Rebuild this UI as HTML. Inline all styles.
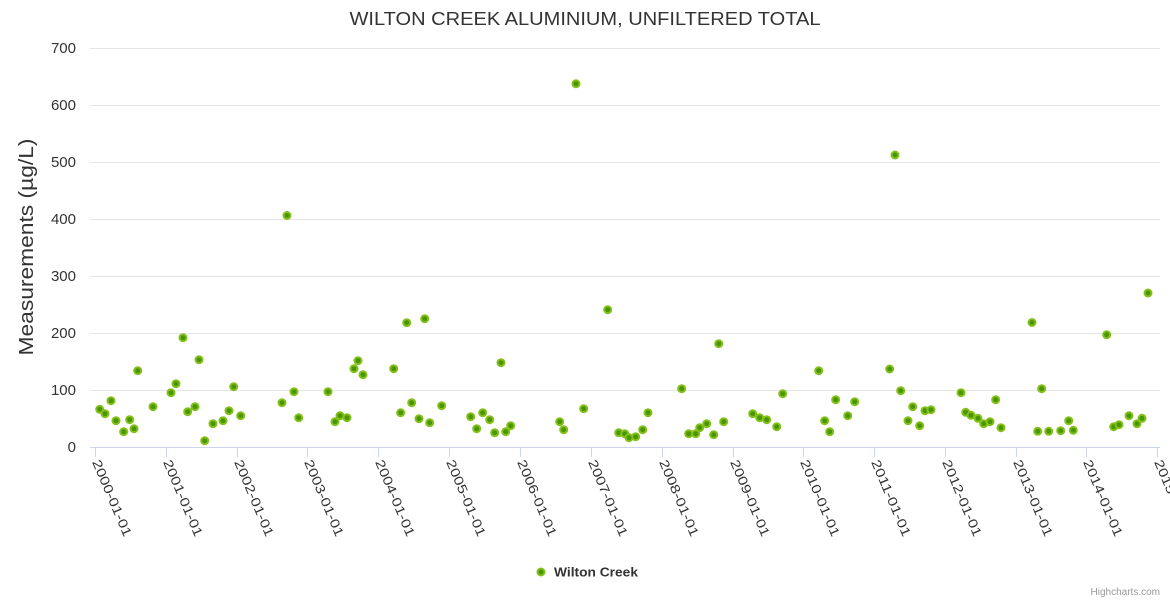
<!DOCTYPE html>
<html>
<head>
<meta charset="utf-8">
<style>
html,body{margin:0;padding:0;background:#fff;}
svg{display:block;}
text{font-family:"Liberation Sans",sans-serif;}
</style>
</head>
<body>
<svg width="1170" height="600" viewBox="0 0 1170 600" xmlns="http://www.w3.org/2000/svg">
<rect width="1170" height="600" fill="#fff"/>
<text x="585" y="25" text-anchor="middle" font-size="18" fill="#333" textLength="471" lengthAdjust="spacingAndGlyphs">WILTON CREEK ALUMINIUM, UNFILTERED TOTAL</text>
<g stroke="#e6e6e6" stroke-width="1">
<line x1="90" y1="48.5" x2="1160" y2="48.5"/>
<line x1="90" y1="105.5" x2="1160" y2="105.5"/>
<line x1="90" y1="162.5" x2="1160" y2="162.5"/>
<line x1="90" y1="219.5" x2="1160" y2="219.5"/>
<line x1="90" y1="276.5" x2="1160" y2="276.5"/>
<line x1="90" y1="333.5" x2="1160" y2="333.5"/>
<line x1="90" y1="390.5" x2="1160" y2="390.5"/>
</g>
<g stroke="#ccd6eb" stroke-width="1">
<line x1="90" y1="447.5" x2="1160" y2="447.5"/>
<line x1="95.5" y1="447" x2="95.5" y2="457"/>
<line x1="166.5" y1="447" x2="166.5" y2="457"/>
<line x1="237.5" y1="447" x2="237.5" y2="457"/>
<line x1="307.5" y1="447" x2="307.5" y2="457"/>
<line x1="378.5" y1="447" x2="378.5" y2="457"/>
<line x1="449.5" y1="447" x2="449.5" y2="457"/>
<line x1="520.5" y1="447" x2="520.5" y2="457"/>
<line x1="591.5" y1="447" x2="591.5" y2="457"/>
<line x1="662.5" y1="447" x2="662.5" y2="457"/>
<line x1="733.5" y1="447" x2="733.5" y2="457"/>
<line x1="803.5" y1="447" x2="803.5" y2="457"/>
<line x1="874.5" y1="447" x2="874.5" y2="457"/>
<line x1="945.5" y1="447" x2="945.5" y2="457"/>
<line x1="1016.5" y1="447" x2="1016.5" y2="457"/>
<line x1="1086.5" y1="447" x2="1086.5" y2="457"/>
<line x1="1157.5" y1="447" x2="1157.5" y2="457"/>
</g>
<g font-size="15" fill="#333" text-anchor="end">
<text x="76" y="53">700</text>
<text x="76" y="110">600</text>
<text x="76" y="167">500</text>
<text x="76" y="224">400</text>
<text x="76" y="281">300</text>
<text x="76" y="338">200</text>
<text x="76" y="395">100</text>
<text x="76" y="452">0</text>
</g>
<text transform="translate(33,247) rotate(-90)" text-anchor="middle" font-size="20" fill="#333" textLength="217" lengthAdjust="spacingAndGlyphs">Measurements (µg/L)</text>
<g font-size="13" fill="#333">
<text transform="translate(92,462) rotate(67)" textLength="82" lengthAdjust="spacingAndGlyphs">2000-01-01</text>
<text transform="translate(163,462) rotate(67)" textLength="82" lengthAdjust="spacingAndGlyphs">2001-01-01</text>
<text transform="translate(234,462) rotate(67)" textLength="82" lengthAdjust="spacingAndGlyphs">2002-01-01</text>
<text transform="translate(304,462) rotate(67)" textLength="82" lengthAdjust="spacingAndGlyphs">2003-01-01</text>
<text transform="translate(375,462) rotate(67)" textLength="82" lengthAdjust="spacingAndGlyphs">2004-01-01</text>
<text transform="translate(446,462) rotate(67)" textLength="82" lengthAdjust="spacingAndGlyphs">2005-01-01</text>
<text transform="translate(517,462) rotate(67)" textLength="82" lengthAdjust="spacingAndGlyphs">2006-01-01</text>
<text transform="translate(588,462) rotate(67)" textLength="82" lengthAdjust="spacingAndGlyphs">2007-01-01</text>
<text transform="translate(659,462) rotate(67)" textLength="82" lengthAdjust="spacingAndGlyphs">2008-01-01</text>
<text transform="translate(730,462) rotate(67)" textLength="82" lengthAdjust="spacingAndGlyphs">2009-01-01</text>
<text transform="translate(800,462) rotate(67)" textLength="82" lengthAdjust="spacingAndGlyphs">2010-01-01</text>
<text transform="translate(871,462) rotate(67)" textLength="82" lengthAdjust="spacingAndGlyphs">2011-01-01</text>
<text transform="translate(942,462) rotate(67)" textLength="82" lengthAdjust="spacingAndGlyphs">2012-01-01</text>
<text transform="translate(1013,462) rotate(67)" textLength="82" lengthAdjust="spacingAndGlyphs">2013-01-01</text>
<text transform="translate(1083,462) rotate(67)" textLength="82" lengthAdjust="spacingAndGlyphs">2014-01-01</text>
<text transform="translate(1154,462) rotate(67)" textLength="82" lengthAdjust="spacingAndGlyphs">2015-01-01</text>
</g>
<g fill="#4a9600" stroke="#84c01c" stroke-width="2">
<circle cx="99.7" cy="409.3" r="3.5"/>
<circle cx="105" cy="413.7" r="3.5"/>
<circle cx="111" cy="400.7" r="3.5"/>
<circle cx="116" cy="420.7" r="3.5"/>
<circle cx="123.7" cy="431.7" r="3.5"/>
<circle cx="129.7" cy="419.7" r="3.5"/>
<circle cx="134" cy="428.7" r="3.5"/>
<circle cx="137.7" cy="370.7" r="3.5"/>
<circle cx="153" cy="406.7" r="3.5"/>
<circle cx="171" cy="392.7" r="3.5"/>
<circle cx="176" cy="383.7" r="3.5"/>
<circle cx="183" cy="337.7" r="3.5"/>
<circle cx="187.7" cy="411.7" r="3.5"/>
<circle cx="195" cy="406.7" r="3.5"/>
<circle cx="199" cy="359.7" r="3.5"/>
<circle cx="204.7" cy="440.7" r="3.5"/>
<circle cx="213" cy="423.7" r="3.5"/>
<circle cx="223" cy="420.7" r="3.5"/>
<circle cx="229" cy="410.7" r="3.5"/>
<circle cx="233.7" cy="386.7" r="3.5"/>
<circle cx="240.7" cy="415.7" r="3.5"/>
<circle cx="282" cy="402.7" r="3.5"/>
<circle cx="287" cy="215.5" r="3.5"/>
<circle cx="294" cy="391.7" r="3.5"/>
<circle cx="298.7" cy="417.7" r="3.5"/>
<circle cx="328" cy="391.7" r="3.5"/>
<circle cx="335" cy="421.7" r="3.5"/>
<circle cx="340" cy="415.7" r="3.5"/>
<circle cx="347" cy="417.7" r="3.5"/>
<circle cx="354" cy="368.7" r="3.5"/>
<circle cx="358" cy="360.7" r="3.5"/>
<circle cx="363" cy="374.7" r="3.5"/>
<circle cx="393.7" cy="368.7" r="3.5"/>
<circle cx="400.7" cy="412.7" r="3.5"/>
<circle cx="406.7" cy="322.7" r="3.5"/>
<circle cx="411.7" cy="402.7" r="3.5"/>
<circle cx="419" cy="418.7" r="3.5"/>
<circle cx="424.7" cy="318.7" r="3.5"/>
<circle cx="429.7" cy="422.7" r="3.5"/>
<circle cx="441.7" cy="405.7" r="3.5"/>
<circle cx="470.7" cy="416.7" r="3.5"/>
<circle cx="476.7" cy="428.7" r="3.5"/>
<circle cx="482.7" cy="412.7" r="3.5"/>
<circle cx="489.7" cy="419.7" r="3.5"/>
<circle cx="494.7" cy="432.7" r="3.5"/>
<circle cx="501" cy="362.7" r="3.5"/>
<circle cx="505.7" cy="431.7" r="3.5"/>
<circle cx="510.7" cy="425.7" r="3.5"/>
<circle cx="559.7" cy="421.7" r="3.5"/>
<circle cx="563.7" cy="429.7" r="3.5"/>
<circle cx="576" cy="83.7" r="3.5"/>
<circle cx="583.7" cy="408.7" r="3.5"/>
<circle cx="607.7" cy="309.7" r="3.5"/>
<circle cx="618.7" cy="432.7" r="3.5"/>
<circle cx="624.7" cy="433.7" r="3.5"/>
<circle cx="629" cy="437.7" r="3.5"/>
<circle cx="635.7" cy="436.7" r="3.5"/>
<circle cx="642.7" cy="429.7" r="3.5"/>
<circle cx="648" cy="412.7" r="3.5"/>
<circle cx="681.7" cy="388.7" r="3.5"/>
<circle cx="688.7" cy="433.7" r="3.5"/>
<circle cx="695.7" cy="433.7" r="3.5"/>
<circle cx="699.7" cy="427.7" r="3.5"/>
<circle cx="706.7" cy="423.7" r="3.5"/>
<circle cx="713.7" cy="434.7" r="3.5"/>
<circle cx="718.7" cy="343.7" r="3.5"/>
<circle cx="723.7" cy="421.7" r="3.5"/>
<circle cx="752.7" cy="413.7" r="3.5"/>
<circle cx="759.7" cy="417.7" r="3.5"/>
<circle cx="766.7" cy="419.7" r="3.5"/>
<circle cx="776.7" cy="426.7" r="3.5"/>
<circle cx="782.7" cy="393.7" r="3.5"/>
<circle cx="818.7" cy="370.7" r="3.5"/>
<circle cx="824.7" cy="420.7" r="3.5"/>
<circle cx="829.7" cy="431.7" r="3.5"/>
<circle cx="835.7" cy="399.7" r="3.5"/>
<circle cx="847.7" cy="415.7" r="3.5"/>
<circle cx="854.7" cy="401.7" r="3.5"/>
<circle cx="889.7" cy="369" r="3.5"/>
<circle cx="895" cy="155" r="3.5"/>
<circle cx="900.7" cy="390.7" r="3.5"/>
<circle cx="908" cy="420.7" r="3.5"/>
<circle cx="912.7" cy="406.7" r="3.5"/>
<circle cx="919.7" cy="425.7" r="3.5"/>
<circle cx="925" cy="410.7" r="3.5"/>
<circle cx="931" cy="409.7" r="3.5"/>
<circle cx="961" cy="392.7" r="3.5"/>
<circle cx="965.7" cy="412.3" r="3.5"/>
<circle cx="971" cy="415.3" r="3.5"/>
<circle cx="978" cy="418.3" r="3.5"/>
<circle cx="983.7" cy="423.7" r="3.5"/>
<circle cx="990" cy="421.7" r="3.5"/>
<circle cx="995.7" cy="399.7" r="3.5"/>
<circle cx="1001" cy="427.7" r="3.5"/>
<circle cx="1032" cy="322.5" r="3.5"/>
<circle cx="1037.7" cy="431.3" r="3.5"/>
<circle cx="1041.7" cy="388.7" r="3.5"/>
<circle cx="1048.7" cy="431.3" r="3.5"/>
<circle cx="1060.7" cy="430.7" r="3.5"/>
<circle cx="1068.7" cy="420.7" r="3.5"/>
<circle cx="1073.3" cy="430.3" r="3.5"/>
<circle cx="1106.7" cy="334.7" r="3.5"/>
<circle cx="1113.7" cy="426.7" r="3.5"/>
<circle cx="1119" cy="424.7" r="3.5"/>
<circle cx="1129" cy="415.7" r="3.5"/>
<circle cx="1137" cy="423.7" r="3.5"/>
<circle cx="1142" cy="418.3" r="3.5"/>
<circle cx="1148" cy="293" r="3.5"/>
</g>
<circle cx="541" cy="572" r="3.5" fill="#4a9600" stroke="#84c01c" stroke-width="2"/>
<text x="554" y="576.5" font-size="13" font-weight="bold" fill="#333" textLength="84" lengthAdjust="spacingAndGlyphs">Wilton Creek</text>
<text x="1160" y="595" text-anchor="end" font-size="10" fill="#999">Highcharts.com</text>
</svg>
</body>
</html>
